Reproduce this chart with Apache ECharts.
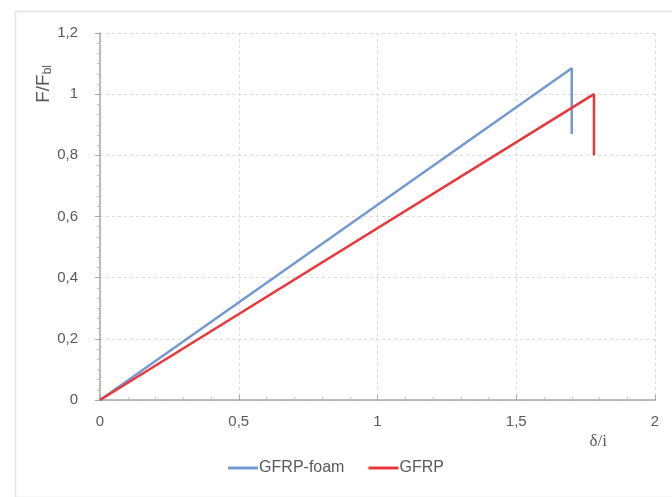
<!DOCTYPE html>
<html>
<head>
<meta charset="utf-8">
<script src="https://cdn.jsdelivr.net/npm/echarts@6/dist/echarts.min.js"></script>
<style>html,body{margin:0;padding:0;background:#fff}#c{width:672px;height:497px}</style>
</head>
<body>
<div id="c"></div>
<script>
var foamX = [0, 1.70, 1.70];
var foamY = [0, 1.085, 0.87];
var gfrpX = [0, 1.78, 1.78];
var gfrpY = [0, 1.0, 0.80];
var seriesNames = ['GFRP-foam', 'GFRP'];
var xTicks = [0, 0.5, 1, 1.5, 2];
var yTicks = [0, 0.2, 0.4, 0.6, 0.8, 1, 1.2];

function pairs(xs, ys) { return xs.map(function (x, i) { return [x, ys[i]]; }); }
function comma(v) { return String(+v.toFixed(2)).replace('.', ','); }

var textColor = '#595959';
var font = 'Liberation Sans';
var chart = echarts.init(document.getElementById('c'));
chart.setOption({
  animation: false,
  backgroundColor: '#fff',
  textStyle: { fontFamily: font },
  graphic: [{
    type: 'rect', left: 13, top: 9, z: -10,
    shape: { width: 680, height: 486 },
    style: { fill: 'none', stroke: '#e4e4e4', lineWidth: 1.5 }
  }],
  grid: { left: 100, right: 17, top: 33, bottom: 97 },
  legend: {
    bottom: 16, left: 'center',
    data: seriesNames,
    icon: 'rect', itemWidth: 30, itemHeight: 3, itemGap: 24,
    textStyle: { color: textColor, fontSize: 16, fontFamily: font, padding: [0, 0, 0, -4] }
  },
  xAxis: {
    type: 'value', min: xTicks[0], max: xTicks[xTicks.length - 1], interval: 0.5,
    name: 'δ/i', nameLocation: 'end', nameGap: 0,
    nameTextStyle: { color: textColor, fontSize: 17, fontFamily: 'Liberation Serif', align: 'right', verticalAlign: 'top', padding: [33, 48, 0, 0] },
    axisLine: { show: true, lineStyle: { color: '#a6a6a6', width: 1.5 } },
    axisTick: { show: true, inside: true, length: 5, lineStyle: { color: '#a6a6a6' } },
    minorTick: { show: true, splitNumber: 5, length: 3, lineStyle: { color: '#bfbfbf' } },
    axisLabel: { color: textColor, fontSize: 15, margin: 14, formatter: comma },
    splitLine: { show: true, lineStyle: { color: '#dcdcdc', type: [3, 3], width: 1 } }
  },
  yAxis: {
    type: 'value', min: yTicks[0], max: yTicks[yTicks.length - 1], interval: 0.2,
    name: '{a|F/F}{s|bl}', nameLocation: 'end', nameRotate: 90, nameGap: 0,
    nameTextStyle: {
      align: 'right', verticalAlign: 'bottom', padding: [0, 32, 46, 0],
      rich: {
        a: { color: textColor, fontSize: 19, fontFamily: font },
        s: { color: textColor, fontSize: 12, fontFamily: font, verticalAlign: 'bottom', padding: [9, 0, 0, 0] }
      }
    },
    axisLine: { show: true, lineStyle: { color: '#a6a6a6', width: 1.5 } },
    axisTick: { show: true, inside: false, length: 5, lineStyle: { color: '#a6a6a6' } },
    minorTick: { show: true, splitNumber: 6, length: 3, lineStyle: { color: '#bfbfbf' } },
    axisLabel: { color: textColor, fontSize: 15, margin: 22, formatter: comma },
    splitLine: { show: true, lineStyle: { color: '#dcdcdc', type: [3, 3], width: 1 } }
  },
  series: [
    { name: seriesNames[0], type: 'line', data: pairs(foamX, foamY), showSymbol: false,
      lineStyle: { color: '#7399d0', width: 2.5 }, itemStyle: { color: '#7399d0' } },
    { name: seriesNames[1], type: 'line', data: pairs(gfrpX, gfrpY), showSymbol: false,
      lineStyle: { color: '#e8383c', width: 2.5 }, itemStyle: { color: '#e8383c' } }
  ]
});
</script>
</body>
</html>
